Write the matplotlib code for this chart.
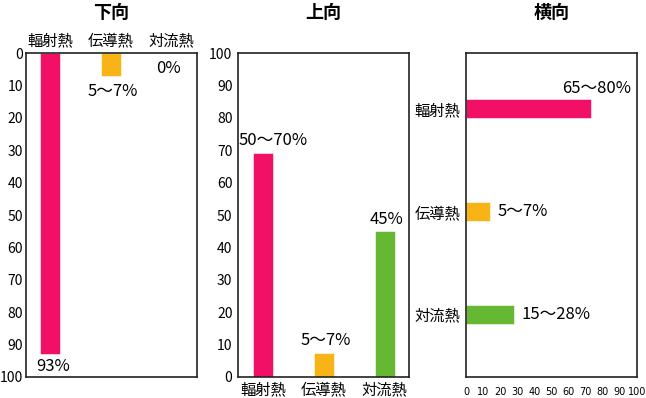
import matplotlib
matplotlib.use("Agg")
import matplotlib.pyplot as plt

plt.rcParams['font.family'] = ['Noto Sans CJK JP', 'DejaVu Sans']

# data
categories = ['輻射熱', '伝導熱', '対流熱']
colors = ['#F21067', '#F8B416', '#66B832']

down_vals = [93, 7, 0]
down_labels = ['93%', '5〜7%', '0%']

up_vals = [69, 7.5, 45]
up_labels = ['50〜70%', '5〜7%', '45%']

side_vals = [73, 14, 28]
side_labels = ['65〜80%', '5〜7%', '15〜28%']

ticks = list(range(0, 101, 10))

fig = plt.figure(figsize=(6.46, 3.98), dpi=100)

W, H = 646, 398
def axes_at(x0):
    return fig.add_axes([x0 / W, 21 / H, 171 / W, 324 / H])

ax1 = axes_at(26)
ax2 = axes_at(238)
ax3 = axes_at(466)

for ax in (ax1, ax2, ax3):
    for sp in ax.spines.values():
        sp.set_linewidth(1.2)
        sp.set_color('#222222')
    ax.tick_params(length=0)

x = range(len(categories))

# 下向
ax1.bar(x, down_vals, width=0.33, color=colors, edgecolor='#ffffff', linewidth=0.4)
ax1.set_xlim(-0.4, 2.43)
ax1.set_ylim(100, 0)
ax1.set_yticks(ticks)
ax1.tick_params(axis='y', labelsize=10, pad=2)
ax1.xaxis.tick_top()
ax1.set_xticks(list(x))
ax1.set_xticklabels(categories, fontsize=11)
ax1.tick_params(axis='x', pad=3)
down_offsets = [(3, -12), (2.5, -16), (-3, -15)]
for i, (v, lab) in enumerate(zip(down_vals, down_labels)):
    ax1.annotate(lab, xy=(i, v), xytext=down_offsets[i], textcoords='offset pixels',
                 ha='center', va='center', fontsize=12)

# 上向
ax2.bar(x, up_vals, width=0.33, color=colors, edgecolor='#ffffff', linewidth=0.4)
ax2.set_xlim(-0.41, 2.4)
ax2.set_ylim(0, 100)
ax2.set_yticks(ticks)
ax2.tick_params(axis='y', labelsize=10, pad=4)
ax2.set_xticks(list(x))
ax2.set_xticklabels(categories, fontsize=11)
ax2.tick_params(axis='x', pad=3)
up_offsets = [(10, 4), (2, 4), (2, 3)]
for i, (v, lab) in enumerate(zip(up_vals, up_labels)):
    ax2.annotate(lab, xy=(i, v), xytext=up_offsets[i], textcoords='offset pixels',
                 ha='center', va='bottom', fontsize=12)

# 横向
ax3.barh(x, side_vals, height=0.185, color=colors, edgecolor='#ffffff', linewidth=0.4)
ax3.set_ylim(2.61, -0.54)
ax3.set_xlim(0, 100)
ax3.set_xticks(ticks)
ax3.set_yticks(list(x))
ax3.set_yticklabels(categories, fontsize=11)
ax3.tick_params(axis='y', pad=4)
ax3.tick_params(axis='x', pad=7)
for t in ax3.get_xticklabels():
    t.set_family('Liberation Sans Narrow')
    t.set_fontsize(7)
ax3.annotate(side_labels[0], xy=(side_vals[0], 0), xytext=(40, 20), textcoords='offset pixels',
             ha='right', va='center', fontsize=12)
for i in (1, 2):
    ax3.annotate(side_labels[i], xy=(side_vals[i], i), xytext=(8, 0), textcoords='offset pixels',
                 ha='left', va='center', fontsize=12)

# titles
for ax, title in zip((ax1, ax2, ax3), ['下向', '上向', '横向']):
    cx = (ax.get_position().x0 + ax.get_position().x1) / 2
    fig.text(cx, 1 - 12 / H, title, ha='center', va='center', fontsize=13, fontweight='bold')

plt.savefig('out.png', dpi=100)
